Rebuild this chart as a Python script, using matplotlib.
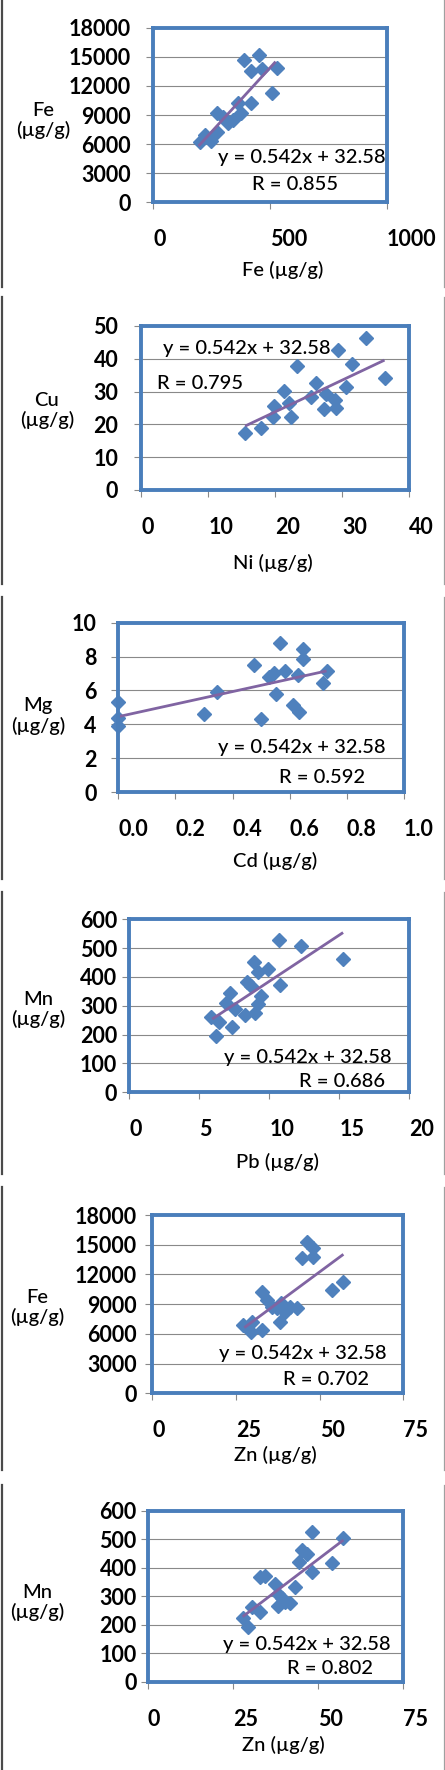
import matplotlib
matplotlib.use("Agg")
import matplotlib.pyplot as plt
from matplotlib.lines import Line2D

plt.rcParams['font.family'] = ['Lato', 'DejaVu Sans']

# ---------------- data ----------------
# Panel 1: Fe vs Fe
p1_x = [198, 222, 248, 275, 275, 298, 320, 340, 362, 376, 387, 419, 452, 466, 419, 528, 509]
p1_y = [6250, 6940, 6320, 7280, 9170, 8760, 8140, 8480, 10200, 9170, 14670, 13530, 15180, 13700, 10270, 13810, 11230]
p1_trend_x = [194, 524]
p1_trend_y = [5800, 14500]

# Panel 2: Cu vs Ni
p2_x = [15.5, 17.8, 19.7, 19.8, 21.3, 22.1, 22.3, 23.3, 25.4, 26.1, 27.3, 27.6, 28.9, 29.1, 29.3, 30.6, 31.4, 33.6, 36.4]
p2_y = [17.5, 19.0, 22.2, 25.7, 30.2, 26.4, 22.2, 37.9, 28.5, 32.7, 24.6, 29.3, 27.4, 24.9, 42.7, 31.5, 38.4, 46.2, 34.0]
p2_trend_x = [15.5, 36.3]
p2_trend_y = [19.5, 39.6]

# Panel 3: Mg vs Cd
p3_x = [0, 0, 0, 0.30, 0.347, 0.476, 0.498, 0.529, 0.545, 0.552, 0.566, 0.583, 0.613, 0.630, 0.634, 0.648, 0.648, 0.715, 0.732]
p3_y = [5.30, 4.35, 3.92, 4.61, 5.93, 7.50, 4.29, 6.81, 7.01, 5.77, 8.78, 7.15, 5.14, 6.91, 4.70, 8.44, 7.85, 6.42, 7.17]
p3_trend_x = [0, 0.729]
p3_trend_y = [4.45, 7.15]

# Panel 4: Mn vs Pb
p4_x = [5.85, 6.44, 6.21, 6.92, 7.16, 7.35, 7.52, 8.23, 8.40, 8.71, 8.88, 8.95, 9.19, 9.19, 9.43, 9.90, 10.69, 10.74, 12.29, 15.27]
p4_y = [262, 245, 195, 309, 346, 225, 288, 268, 384, 369, 453, 276, 418, 306, 334, 427, 528, 372, 507, 462]
p4_trend_x = [5.92, 15.27]
p4_trend_y = [254, 554]

# Panel 5: Fe vs Zn
p5_x = [27.2, 29.4, 29.9, 32.7, 32.7, 34.2, 35.7, 37.2, 38.2, 38.6, 39.6, 41.0, 43.1, 44.6, 46.1, 47.9, 47.9, 53.6, 57.1]
p5_y = [6900, 6220, 7230, 6390, 10260, 9420, 8750, 8580, 7230, 9080, 8240, 8750, 8580, 13620, 15310, 14630, 13790, 10430, 11270]
p5_trend_x = [27.5, 57.1]
p5_trend_y = [6630, 14030]

# Panel 6: Mn vs Zn
p6_x = [27.8, 29.5, 30.5, 32.9, 32.9, 34.4, 37.3, 38.3, 38.3, 39.3, 40.3, 41.7, 43.2, 44.5, 45.2, 46.6, 48.1, 48.3, 54.0, 57.4]
p6_y = [222, 193, 263, 246, 368, 371, 343, 308, 265, 292, 281, 275, 331, 421, 462, 448, 526, 386, 415, 503]
p6_trend_x = [27.8, 57.4]
p6_trend_y = [228, 497]

x_labels = ["Fe (µg/g)", "Ni (µg/g)", "Cd (µg/g)", "Pb (µg/g)", "Zn (µg/g)", "Zn (µg/g)"]
y_labels = ["Fe\n(µg/g)", "Cu\n(µg/g)", "Mg\n(µg/g)", "Mn\n(µg/g)", "Fe\n(µg/g)", "Mn\n(µg/g)"]
equations = ["y = 0.542x + 32.58"] * 6
r_texts = ["R = 0.855", "R = 0.795", "R = 0.592", "R = 0.686", "R = 0.702", "R = 0.802"]

y_ticks = [
    [0, 3000, 6000, 9000, 12000, 15000, 18000],
    [0, 10, 20, 30, 40, 50],
    [0, 2, 4, 6, 8, 10],
    [0, 100, 200, 300, 400, 500, 600],
    [0, 3000, 6000, 9000, 12000, 15000, 18000],
    [0, 100, 200, 300, 400, 500, 600],
]
x_ticks = [
    [0, 500, 1000],
    [0, 10, 20, 30, 40],
    [0.0, 0.2, 0.4, 0.6, 0.8, 1.0],
    [0, 5, 10, 15, 20],
    [0, 25, 50, 75],
    [0, 25, 50, 75],
]
x_tick_labels = [
    ["0", "500", "1000"],
    ["0", "10", "20", "30", "40"],
    ["0.0", "0.2", "0.4", "0.6", "0.8", "1.0"],
    ["0", "5", "10", "15", "20"],
    ["0", "25", "50", "75"],
    ["0", "25", "50", "75"],
]

xs = [p1_x, p2_x, p3_x, p4_x, p5_x, p6_x]
ys = [p1_y, p2_y, p3_y, p4_y, p5_y, p6_y]
txs = [p1_trend_x, p2_trend_x, p3_trend_x, p4_trend_x, p5_trend_x, p6_trend_x]
tys = [p1_trend_y, p2_trend_y, p3_trend_y, p4_trend_y, p5_trend_y, p6_trend_y]

# ---------------- layout (pixels) ----------------
W, H = 445, 1770
DPI = 100
PT = DPI / 72.0

boxes = [  # left, top, right, bottom
    (153.3, 27.7, 386.7, 202.3),
    (141.3, 326.0, 409.3, 490.0),
    (118.3, 622.7, 404.0, 792.0),
    (129.3, 919.3, 409.3, 1092.3),
    (152.3, 1215.0, 403.3, 1393.3),
    (148.0, 1510.7, 403.3, 1681.7),
]
ytick_gap = [22.3, 23.0, 21.6, 12.0, 15.6, 11.3]
eq_pos = [(0.635, 0.259), (0.394, 0.860), (0.643, 0.260), (0.638, 0.204), (0.600, 0.226), (0.623, 0.220)]
r_pos = [(0.609, 0.103), (0.219, 0.652), (0.713, 0.083), (0.760, 0.065), (0.692, 0.080), (0.713, 0.080)]
xlabel_pos = [(0.556, -0.388), (0.491, -0.445), (0.548, -0.408), (0.528, -0.403), (0.489, -0.346), (0.529, -0.370)]
ylabel_pos = [(-0.473, 0.468), (-0.352, 0.485), (-0.281, 0.449), (-0.326, 0.479), (-0.457, 0.481), (-0.433, 0.463)]
side_segments = [(0, 287), (297, 584), (597, 879), (892, 1174), (1187, 1470), (1485, 1770)]

BOX_COLOR = '#4A7EBB'
MARKER_COLOR = '#4F81BD'
TREND_COLOR = '#8064A2'
GRID_COLOR = '#898989'
TICK_LEN_PX = 6.5

fig = plt.figure(figsize=(W / DPI, H / DPI), dpi=DPI)
fig.patch.set_facecolor('white')

for y0, y1 in side_segments:
    fig.add_artist(Line2D([1.5 / W, 1.5 / W], [1 - y0 / H, 1 - y1 / H], color='#4a4a4a', lw=1.6))
    fig.add_artist(Line2D([443.8 / W, 443.8 / W], [1 - y0 / H, 1 - y1 / H], color='#a0a0a0', lw=0.9))

for i in range(6):
    l, t, r, b = boxes[i]
    ax = fig.add_axes([l / W, 1 - b / H, (r - l) / W, (b - t) / H])
    ax.set_xlim(x_ticks[i][0], x_ticks[i][-1])
    ax.set_ylim(y_ticks[i][0], y_ticks[i][-1])
    ax.set_yticks(y_ticks[i])
    ax.set_xticks(x_ticks[i])
    ax.set_xticklabels(x_tick_labels[i])
    ax.set_yticklabels([str(v) for v in y_ticks[i]])

    ax.grid(axis='y', color=GRID_COLOR, lw=0.8, zorder=0)
    ax.set_axisbelow(True)
    for s in ax.spines.values():
        s.set_color(BOX_COLOR)
        s.set_linewidth(2.8)
        s.set_zorder(5)

    ax.tick_params(axis='y', direction='out', length=TICK_LEN_PX / PT, width=0.8,
                   color=GRID_COLOR, pad=(ytick_gap[i] - TICK_LEN_PX) / PT,
                   labelsize=15.5, right=False)
    ax.tick_params(axis='x', direction='out', length=7 / PT, width=0.8,
                   color=GRID_COLOR, pad=(37.5 - 7) / PT, labelsize=15.5, top=False)
    for lab in ax.get_yticklabels():
        lab.set_fontweight('bold')
    for lab in ax.get_xticklabels():
        lab.set_fontweight('bold')
        lab.set_horizontalalignment('left')
        lab.set_verticalalignment('center')

    ax.plot(xs[i], ys[i], linestyle='none', marker='D', ms=7, color=MARKER_COLOR,
            mec=MARKER_COLOR, zorder=3, clip_on=False)
    ax.plot(txs[i], tys[i], color=TREND_COLOR, lw=2.0, zorder=4, solid_capstyle='butt')

    ax.text(eq_pos[i][0], eq_pos[i][1], equations[i], transform=ax.transAxes,
            ha='center', va='center', fontsize=14.5, fontweight='medium', zorder=6)
    ax.text(r_pos[i][0], r_pos[i][1], r_texts[i], transform=ax.transAxes,
            ha='center', va='center', fontsize=14.5, fontweight='medium', zorder=6)

    ax.set_xlabel(x_labels[i], fontsize=14.5, fontweight='medium', va='center', ha='center')
    ax.xaxis.set_label_coords(*xlabel_pos[i])
    ax.set_ylabel(y_labels[i], fontsize=14.5, fontweight='medium', rotation=0, va='center',
                  ha='center', multialignment='center', linespacing=1.15)
    ax.yaxis.set_label_coords(*ylabel_pos[i])

fig.savefig('out.png', dpi=DPI, facecolor='white')
